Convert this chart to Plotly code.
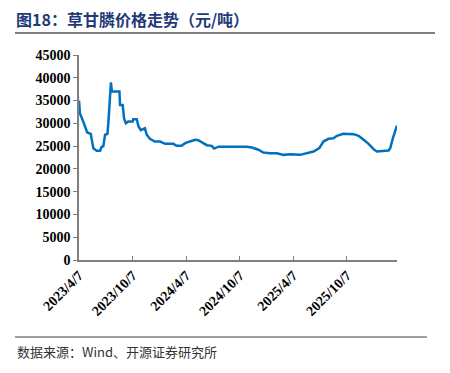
import plotly.graph_objects as go
import pandas as pd

# data (day offset from 2023-04-07, price 元/吨)
day_offsets = [0, 3, 12, 20, 28, 40, 43, 49, 60, 72, 77, 83, 89, 97, 100, 104, 109, 112, 138, 140,
               149, 154, 160, 168, 183, 185, 197, 203, 211, 225, 231, 242, 259, 277, 294, 322, 333,
               350, 362, 396, 407, 424, 436, 453, 461, 476, 493, 510, 572, 590, 612, 629, 652, 675,
               698, 720, 755, 777, 800, 820, 834, 851, 868, 880, 902, 937, 954, 971, 988, 1005,
               1016, 1056, 1062, 1071, 1079, 1085]
prices = [35000, 32200, 30800, 29300, 28000, 27700, 26400, 24500, 24000, 24000, 24800, 25000, 27500,
          27700, 30000, 35000, 39000, 37000, 37000, 34000, 34000, 31000, 30000, 30400, 30400, 30900,
          30900, 29300, 28500, 28900, 27500, 26600, 26000, 26000, 25500, 25500, 25060, 25060, 25650,
          26380, 26300, 25650, 25200, 25060, 24470, 24880, 24800, 24880, 24880, 24700, 24200, 23600,
          23450, 23450, 23080, 23230, 23080, 23450, 23810, 24550, 26000, 26600, 26740, 27260, 27700,
          27620, 27260, 26380, 25500, 24330, 23810, 24030, 24550, 26740, 28200, 29520]
start_date = "2023-04-07"
tick_dates = ["2023-04-07", "2023-10-07", "2024-04-07", "2024-10-07", "2025-04-07", "2025-10-07"]
tick_labels = ["2023/4/7", "2023/10/7", "2024/4/7", "2024/10/7", "2025/4/7", "2025/10/7"]
y_ticks = [0, 5000, 10000, 15000, 20000, 25000, 30000, 35000, 40000, 45000]

title_text = "图18：草甘膦价格走势（元/吨）"
source_text = "数据来源：Wind、开源证券研究所"

dates = pd.to_datetime(start_date) + pd.to_timedelta(day_offsets, unit="D")

fig = go.Figure()
fig.add_trace(go.Scatter(x=dates, y=prices, mode="lines",
                         line=dict(color="#0070C0", width=2.5), showlegend=False))

OFF = 8  # page body margin
W, H = 450, 373
L, R, T, B = 79, 397, 55, 260


def px(x):
    return (x - L) / (R - L)


def py(y):
    return (B - y) / (B - T)


SERIF = "Times New Roman, Liberation Serif, serif"

fig.update_layout(
    width=W - OFF, height=H - OFF,
    margin=dict(l=L - OFF, r=W - R, t=T - OFF, b=H - B),
    paper_bgcolor="white", plot_bgcolor="white",
    xaxis=dict(
        type="date",
        range=[dates[0], dates[-1]],
        tickvals=pd.to_datetime(tick_dates), ticktext=[f"<b>{t}</b>" for t in tick_labels],
        tickangle=-45, tickfont=dict(family=SERIF, size=14, color="black"),
        showgrid=False, showline=True, linecolor="#7f7f7f", linewidth=1.5,
        ticks="inside", ticklen=4, tickcolor="#7f7f7f", zeroline=False,
    ),
    yaxis=dict(
        range=[0, 45000], tickvals=y_ticks, ticktext=[f"<b>{v}</b>" for v in y_ticks],
        tickfont=dict(family=SERIF, size=14, color="black"),
        showgrid=False, showline=True, linecolor="#7f7f7f", linewidth=1.5,
        ticks="outside", ticklen=4, tickcolor="#7f7f7f", zeroline=False,
    ),
    annotations=[
        dict(text=f"<b>{title_text}</b>", xref="paper", yref="paper", x=px(15), y=py(19),
             xanchor="left", yanchor="middle", showarrow=False, borderpad=0,
             font=dict(family="Noto Sans CJK SC", size=16, color="#1F3A78")),
        dict(text=source_text, xref="paper", yref="paper", x=px(15), y=py(351),
             xanchor="left", yanchor="middle", showarrow=False,
             font=dict(family="Noto Sans CJK SC", size=13, color="#333333")),
    ],
    shapes=[
        dict(type="line", xref="paper", yref="paper", x0=px(15), x1=px(435), y0=py(33), y1=py(33),
             line=dict(color="#7f7f7f", width=2)),
        dict(type="line", xref="paper", yref="paper", x0=px(15), x1=px(427), y0=py(337), y1=py(337),
             line=dict(color="#7f7f7f", width=1.5)),
    ],
)

fig.write_html("out.html")
